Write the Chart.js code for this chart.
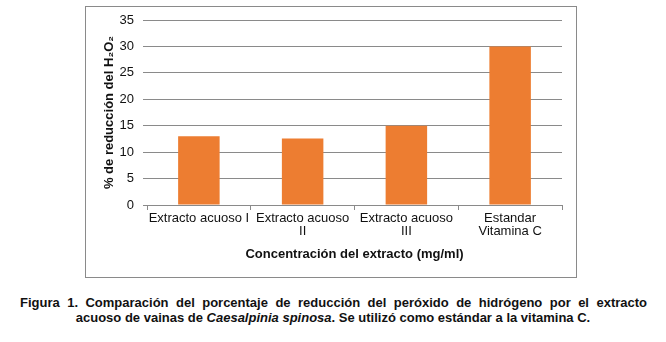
<!DOCTYPE html>
<html>
<head>
<meta charset="utf-8">
<script src="https://cdn.jsdelivr.net/npm/chart.js@4"></script>
<style>
  html, body { margin: 0; padding: 0; background: #fff; }
  body { width: 666px; height: 342px; position: relative; overflow: hidden; }
  #box { position: absolute; left: 85px; top: 6px; width: 490px; height: 270px; border: 1px solid #8a8a8a; }
  #wrap { position: absolute; left: 0; top: 0; width: 490px; height: 270px; }
  .cap { position: absolute; font-family: "Liberation Sans Narrow", "Arial Narrow", "Liberation Sans", sans-serif; font-weight: bold; font-size: 13px; color: #111; white-space: nowrap; }
  #cap1 { left: 20px; top: 295px; width: 627px; text-align: justify; text-align-last: justify; }
  #cap2 { left: 0; top: 310px; width: 666px; text-align: center; }
</style>
</head>
<body>
<div id="box"><div id="wrap"><canvas id="c"></canvas></div></div>
<div class="cap" id="cap1">Figura 1. Comparación del porcentaje de reducción del peróxido de hidrógeno por el extracto</div>
<div class="cap" id="cap2">acuoso de vainas de <i>Caesalpinia spinosa</i>. Se utilizó como estándar a la vitamina C.</div>
<script>
const categories = [["Extracto acuoso I"], ["Extracto acuoso", "II"], ["Extracto acuoso", "III"], ["Estandar", "Vitamina C"]];
const reductionValues = [13, 12.6, 15, 30];
const yTicks = [0, 5, 10, 15, 20, 25, 30, 35];
const xTitle = "Concentración del extracto (mg/ml)";
const yTitle = "% de reducción del H₂O₂";

Chart.defaults.font.family = "'Liberation Sans', Arial, sans-serif";
Chart.defaults.color = "#111";

new Chart(document.getElementById("c"), {
  type: "bar",
  data: {
    labels: categories,
    datasets: [{
      data: reductionValues,
      backgroundColor: "#ED7D31",
      borderWidth: 0,
      barPercentage: 0.4,
      categoryPercentage: 1.0
    }]
  },
  options: {
    responsive: true,
    maintainAspectRatio: false,
    animation: false,
    devicePixelRatio: 1,
    layout: { padding: { top: 13, right: 14, left: 0, bottom: 0 } },
    plugins: { legend: { display: false }, tooltip: { enabled: false } },
    scales: {
      x: {
        grid: { offset: true, drawOnChartArea: false, drawTicks: true, tickLength: 5, color: "#8a8a8a" },
        border: { display: true, color: "#8a8a8a", width: 1 },
        ticks: { font: { size: 13, lineHeight: 1.0 }, padding: 2, maxRotation: 0, autoSkip: false, color: "#111" },
        title: { display: true, text: xTitle, font: { size: 13, weight: "bold" }, color: "#111", padding: { top: 6, bottom: 15 } },
        afterFit: (s) => { s.height = 72; s.paddingLeft = 0; s.paddingRight = 0; }
      },
      y: {
        min: 0, max: 35,
        afterBuildTicks: (s) => { s.ticks = yTicks.map(v => ({ value: v })); },
        grid: { color: "#8a8a8a", drawTicks: true, tickLength: 4 },
        border: { display: false },
        ticks: { font: { size: 13 }, padding: 9, color: "#111" },
        title: { display: true, text: yTitle, font: { size: 13, weight: "bold" }, color: "#111", padding: { top: 16, bottom: 0 } },
        afterFit: (s) => { s.width = 61; s.paddingTop = 0; s.paddingBottom = 0; }
      }
    }
  }
});
</script>
</body>
</html>
